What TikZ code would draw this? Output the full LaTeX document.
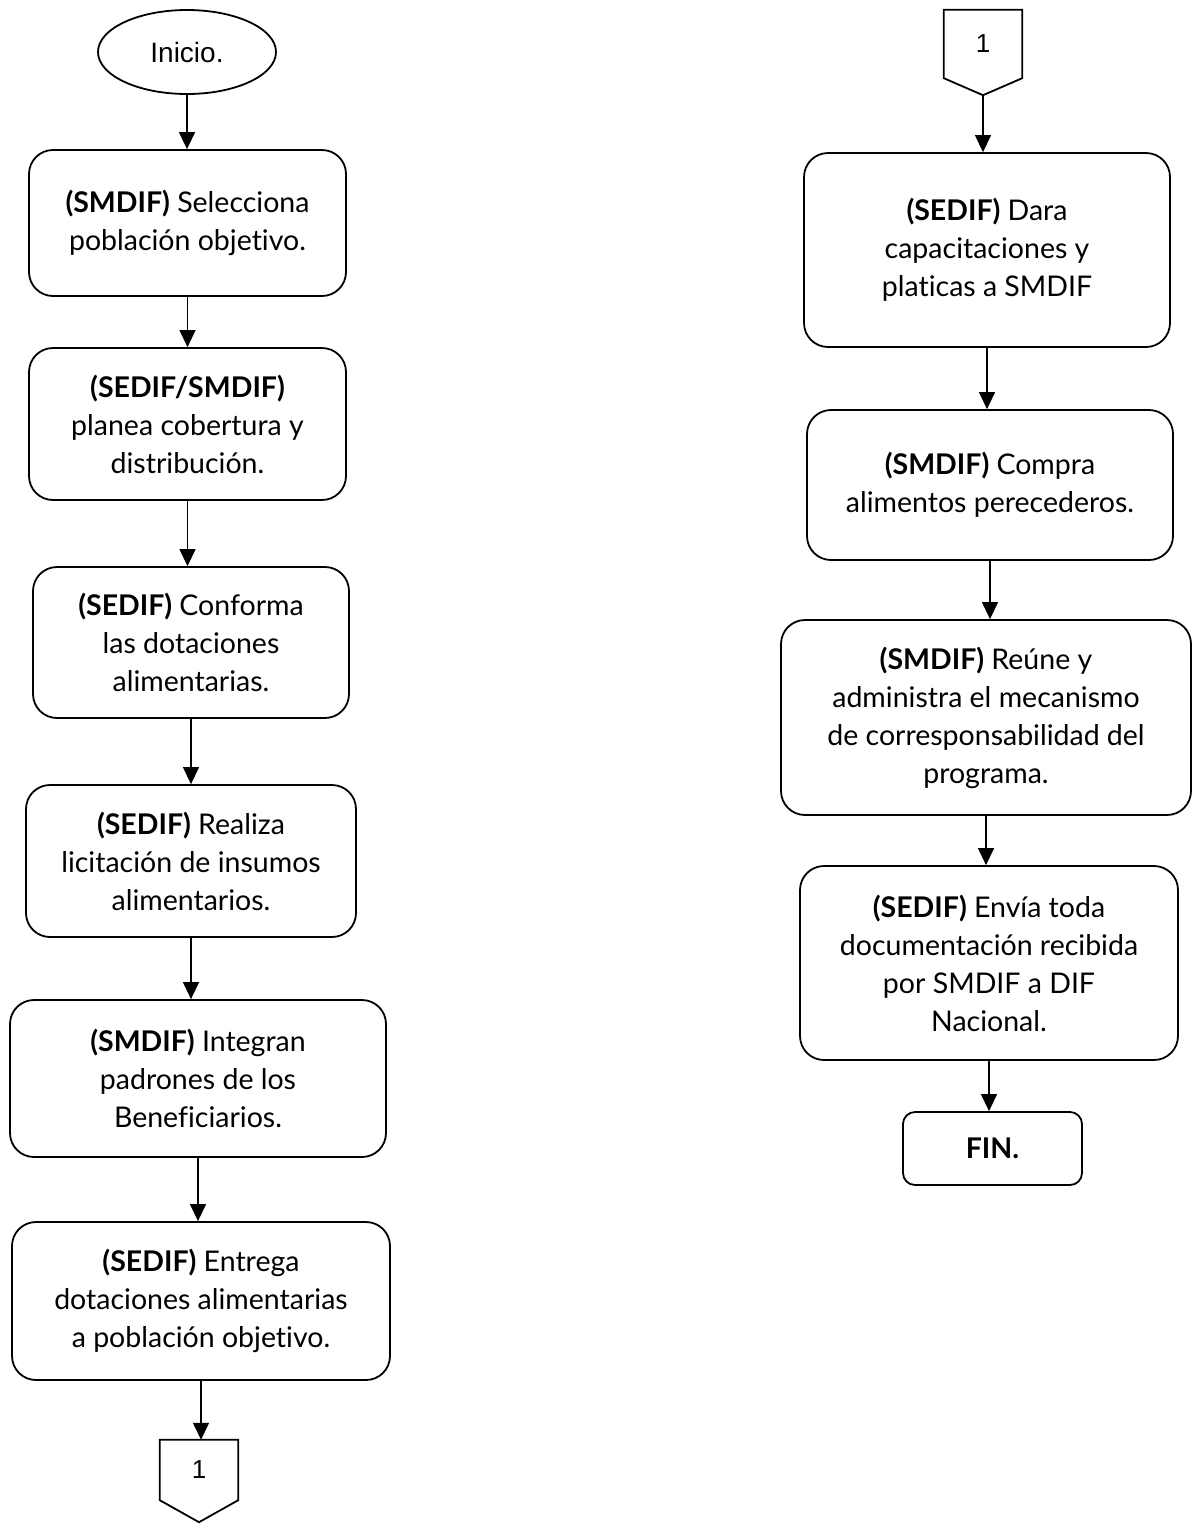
\documentclass[tikz,border=0pt]{standalone}
\usepackage{fontspec}
\setmainfont{Lato}[Ligatures=NoCommon]
\newfontfamily\arialfont{Liberation Sans}
\usetikzlibrary{arrows.meta, calc, shapes.geometric}

\begin{document}
\begin{tikzpicture}[x=1pt,y=-1pt,
    every node/.style={font=\fontsize{28.5}{38}\selectfont},
    paso/.style={draw,line width=1.8pt,rounded corners=24pt,align=center,inner sep=0pt},
    conector/.style={minimum width=78pt,inner sep=0pt,font=\arialfont\fontsize{26}{28}\selectfont},
    flecha/.style={-{Triangle[width=16pt,length=17pt]},line width=1.3pt}]
    \useasboundingbox (0,0) rectangle (1192,1524);

    % columna izquierda
    \node[draw,ellipse,line width=1.8pt,minimum width=178pt,minimum height=84pt,inner sep=0pt,
          font=\arialfont\fontsize{28}{30}\selectfont] (inicio) at (187,52) {Inicio.};
    \node[paso,minimum width=317pt,minimum height=146pt] (b1) at (187.5,223)
        {\textbf{(SMDIF)} Selecciona\\población objetivo.};
    \node[paso,minimum width=317pt,minimum height=152pt] (b2) at (187.5,424)
        {\textbf{(SEDIF/SMDIF)}\\planea cobertura y\\distribución.};
    \node[paso,minimum width=316pt,minimum height=151pt] (b3) at (191,642.5)
        {\textbf{(SEDIF)} Conforma\\las dotaciones\\alimentarias.};
    \node[paso,minimum width=330pt,minimum height=152pt] (b4) at (191,861)
        {\textbf{(SEDIF)} Realiza\\licitación de insumos\\alimentarios.};
    \node[paso,minimum width=376pt,minimum height=157pt] (b5) at (198,1078.5)
        {\textbf{(SMDIF)} Integran\\padrones de los\\Beneficiarios.};
    \node[paso,minimum width=378pt,minimum height=158pt] (b6) at (201,1301)
        {\textbf{(SEDIF)} Entrega\\dotaciones alimentarias\\a población objetivo.};
    \node[conector,minimum height=60pt] (cl) at (199,1470) {1};
    \coordinate (pl) at ($(cl.south)+(0,22)$);
    \draw[line width=1.8pt] (cl.north west) -- (cl.north east) -- (cl.south east) -- (pl) -- (cl.south west) -- cycle;

    % columna derecha
    \node[conector,minimum height=68pt] (cr) at (983,44) {1};
    \coordinate (pr) at ($(cr.south)+(0,17)$);
    \draw[line width=1.8pt] (cr.north west) -- (cr.north east) -- (cr.south east) -- (pr) -- (cr.south west) -- cycle;
    \node[paso,minimum width=366pt,minimum height=194pt] (a1) at (987,250)
        {\textbf{(SEDIF)} Dara\\capacitaciones y\\platicas a SMDIF};
    \node[paso,minimum width=366pt,minimum height=150pt] (a2) at (990,485)
        {\textbf{(SMDIF)} Compra\\alimentos perecederos.};
    \node[paso,minimum width=410pt,minimum height=195pt] (a3) at (986,717.5)
        {\textbf{(SMDIF)} Reúne y\\administra el mecanismo\\de corresponsabilidad del\\programa.};
    \node[paso,minimum width=378pt,minimum height=194pt] (a4) at (989,963)
        {\textbf{(SEDIF)} Envía toda\\documentación recibida\\por SMDIF a DIF\\Nacional.};
    \node[paso,rounded corners=12pt,minimum width=179pt,minimum height=73pt,font=\bfseries\fontsize{28.5}{38}\selectfont] (fin) at (992.5,1148.5) {FIN.};

    % flechas
    \foreach \a/\b in {inicio/b1,b1/b2,b2/b3,b3/b4,b4/b5,b5/b6,b6/cl,a1/a2,a2/a3,a3/a4,a4/fin} {
        \draw[flecha] (\a.south) -- (\a.south |- \b.north);
    }
    \draw[flecha] (pr) -- (pr |- a1.north);
\end{tikzpicture}
\end{document}
